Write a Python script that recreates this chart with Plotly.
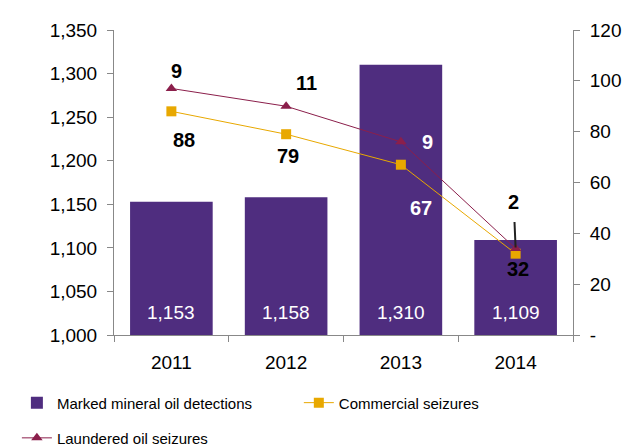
import plotly.graph_objects as go

years = ["2011", "2012", "2013", "2014"]
detections = [1153, 1158, 1310, 1109]
commercial = [88, 79, 67, 32]
laundered = [9, 11, 9, 2]

stacked = [c + l for c, l in zip(commercial, laundered)]

BAR = "#4F2D7F"
GOLD = "#E8A800"
MAROON = "#8B1F4B"
FONT = "Liberation Sans, Arial, sans-serif"
W, H = 635, 440  # page has an 8px body margin

fig = go.Figure()
fig.add_trace(go.Bar(x=years, y=detections, name="Marked mineral oil detections",
                     marker=dict(color=BAR, line=dict(width=0)), width=0.72,
                     hoverinfo="skip", legend="legend"))
fig.add_trace(go.Scatter(x=years, y=commercial, name="Commercial seizures", yaxis="y2",
                         mode="lines+markers", line=dict(color=GOLD, width=1),
                         marker=dict(symbol="square", size=10, color=GOLD), legend="legend2"))
fig.add_trace(go.Scatter(x=years, y=stacked, name="Laundered oil seizures", yaxis="y2",
                         mode="lines+markers", line=dict(color=MAROON, width=1),
                         marker=dict(symbol="triangle-up", size=10, color=MAROON), legend="legend3"))

ann = []
for i, v in enumerate(detections):
    ann.append(dict(x=i, y=1000, xref="x", yref="y", text=f"{v:,}", showarrow=False,
                    yanchor="middle", yshift=23, font=dict(color="white", size=19, family=FONT)))

l_shift = [(5, 17), (20, 23), (27, 0), (0, 47)]
for i, (y, v) in enumerate(zip(stacked, laundered)):
    dx, dy = l_shift[i]
    col = "white" if i == 2 else "black"
    if i == 3:
        ann.append(dict(x=i, y=y, xref="x", yref="y2", text=f"<b>{v}</b>", showarrow=True,
                        arrowhead=0, arrowwidth=2, arrowcolor="#222222", ax=-2, ay=-47,
                        startstandoff=8, standoff=1,
                        font=dict(color=col, size=20, family=FONT)))
    else:
        ann.append(dict(x=i, y=y, xref="x", yref="y2", text=f"<b>{v}</b>", showarrow=False,
                        xshift=dx, yshift=dy, font=dict(color=col, size=20, family=FONT)))

c_shift = [(13, -29), (2, -22), (20, -43), (2, -15)]
for i, y in enumerate(commercial):
    dx, dy = c_shift[i]
    col = "white" if i == 2 else "black"
    ann.append(dict(x=i, y=y, xref="x", yref="y2", text=f"<b>{y}</b>", showarrow=False,
                    xshift=dx, yshift=dy, font=dict(color=col, size=20, family=FONT)))

AX = "#888888"
LEGFONT = dict(family=FONT, size=15, color="black")
leg_common = dict(orientation="h", xref="container", yref="container",
                  xanchor="left", yanchor="top", font=LEGFONT, bgcolor="rgba(0,0,0,0)")
fig.update_layout(
    width=W, height=H,
    margin=dict(l=106, r=70, t=17, b=113),
    plot_bgcolor="white", paper_bgcolor="white",
    font=dict(family=FONT, size=18, color="black"),
    xaxis=dict(type="category", range=[-0.5, 3.5], showline=True, linecolor=AX, linewidth=1,
               ticks="outside", tickson="boundaries", ticklen=6, tickcolor=AX,
               ticklabelstandoff=10,
               tickfont=dict(size=19), showgrid=False, zeroline=False),
    yaxis=dict(range=[1000, 1350], dtick=50, tickformat=",", showline=True,
               linecolor=AX, ticks="outside", ticklen=6, tickcolor=AX,
               ticklabelstandoff=6,
               showgrid=False, zeroline=False, tickfont=dict(size=19)),
    yaxis2=dict(range=[0, 120], overlaying="y", side="right",
                tickvals=[0, 20, 40, 60, 80, 100, 120],
                ticktext=["-", "20", "40", "60", "80", "100", "120"],
                showline=True, linecolor=AX, ticks="outside", ticklen=6, tickcolor=AX,
                ticklabelstandoff=6,
                showgrid=False, zeroline=False, tickfont=dict(size=19)),
    legend=dict(x=0.014, y=0.140, **leg_common),
    legend2=dict(x=0.458, y=0.140, **leg_common),
    legend3=dict(x=0.014, y=0.060, **leg_common),
    annotations=ann,
    showlegend=True,
)

fig.write_html("out.html")
